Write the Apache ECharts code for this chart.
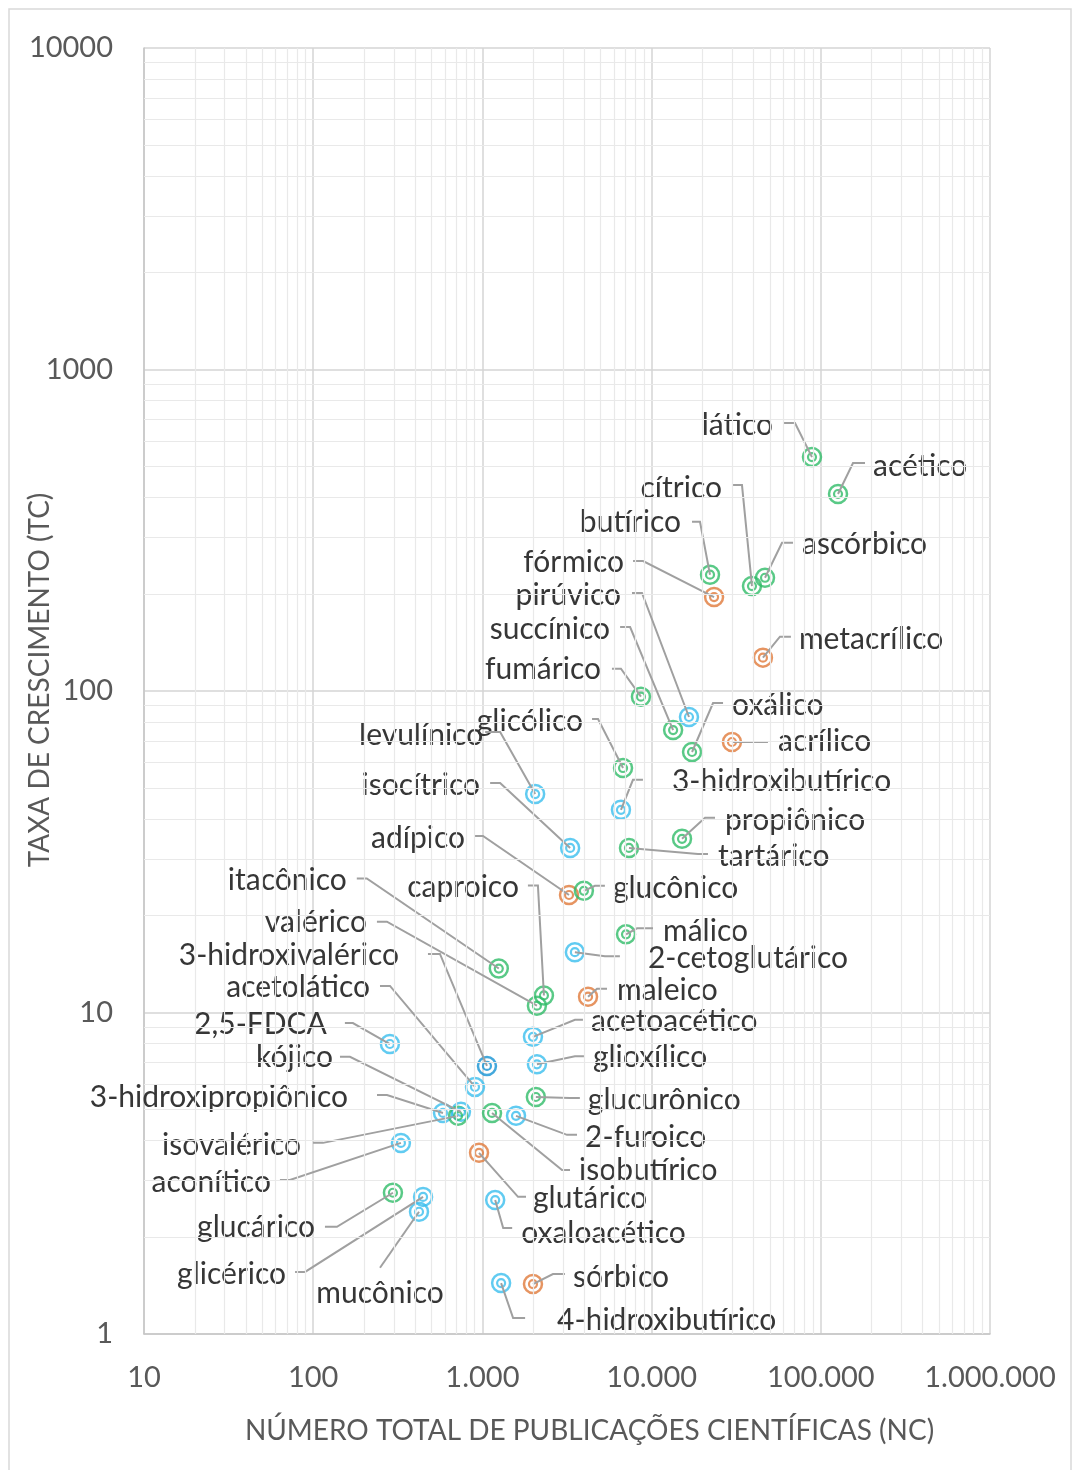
<!DOCTYPE html>
<html>
<head>
<meta charset="utf-8">
<script src="https://cdn.jsdelivr.net/npm/echarts@6/dist/echarts.min.js"></script>
<style>
  html, body { margin: 0; padding: 0; background: #ffffff; }
  #chart { width: 1073px; height: 1470px; }
</style>
</head>
<body>
<div id="chart"></div>
<script>
// Ácidos orgânicos: número total de publicações (NC) x taxa de crescimento (TC)
const acidos = [
  'lático', 'acético', 'cítrico', 'butírico', 'ascórbico', 'fórmico', 'pirúvico',
  'metacrílico', 'succínico', 'fumárico', 'oxálico', 'acrílico', 'glicólico',
  'levulínico', 'isocítrico', 'adípico', '3-hidroxibutírico', 'propiônico',
  'tartárico', 'glucônico', 'caproico', 'málico', '2-cetoglutárico', 'maleico',
  'itacônico', 'valérico', '3-hidroxivalérico', 'acetolático', '2,5-FDCA', 'kójico',
  '3-hidroxipropiônico', 'isovalérico', 'aconítico', 'glucárico', 'glicérico',
  'mucônico', 'acetoacético', 'glioxílico', 'glucurônico', '2-furoico',
  'isobutírico', 'glutárico', 'oxaloacético', 'sórbico', '4-hidroxibutírico'
];
const nc = [
  88700, 126400, 39200, 22140, 46800, 23400, 16630,
  45500, 13400, 8650, 17340, 29850, 6780,
  2050, 3300, 3250, 6590, 15130,
  7350, 3980, 2310, 7060, 3520, 4210,
  1250, 2100, 1064, 904, 284, 747,
  585, 718, 330, 296, 446,
  422, 1990, 2100, 2070, 1580,
  1140, 955, 1190, 1990, 1290
];
const tc = [
  534, 410, 212, 230, 225, 196, 83,
  127, 75.6, 96, 64.6, 69.4, 57.6,
  47.8, 32.5, 23.2, 42.7, 34.7,
  32.5, 23.9, 11.3, 17.5, 15.4, 11.2,
  13.7, 10.5, 6.82, 5.87, 7.98, 4.91,
  4.87, 4.77, 3.93, 2.75, 2.67,
  2.40, 8.4, 6.9, 5.46, 4.77,
  4.87, 3.66, 2.61, 1.43, 1.44
];
// v = verde, a = azul, e = azul escuro, l = laranja
const grupo = [
  'v', 'v', 'v', 'v', 'v', 'l', 'a',
  'l', 'v', 'v', 'v', 'l', 'v',
  'a', 'a', 'l', 'a', 'v',
  'v', 'v', 'v', 'v', 'a', 'l',
  'v', 'v', 'e', 'a', 'a', 'a',
  'a', 'v', 'a', 'v', 'a',
  'a', 'a', 'a', 'v', 'a',
  'v', 'l', 'a', 'l', 'a'
];
const xTicks = [10, 100, 1000, 10000, 100000, 1000000];
const yTicks = [1, 10, 100, 1000, 10000];

// Layout of each label relative to its marker (pixels):
// [cotoveloX, cotoveloY, fimTracoX, textoX, textoY]
const posRotulo = [
  [-17, -34, -29, -39, -32], [15, -31, 27, 35, -28], [-10, -101, -20, -30, -98],
  [-10, -53, -18, -29, -52], [17, -35, 28, 37, -33], [-71, -36, -81, -90, -35],
  [-47, -124, -57, -68, -122], [17, -21, 28, 36, -18], [-43, -103, -53, -63, -101],
  [-20, -28, -29, -40, -27], [21, -49, 31, 40, -47], [26, 0, 36, 46, -1],
  [-25, -49, -31, -40, -47], [-35, -62, -50, -52, -59], [-70, -65, -80, -90, -63],
  [-86, -59, -94, -104, -57], [12, -30, 22, 51, -28], [23, -21, 33, 43, -18],
  [69, 6, 79, 89, 8], [11, -5, 21, 29, -3], [-6, -110, -16, -25, -108],
  [11, -6, 27, 37, -3], [30, 4, 45, 73, 6], [9, -8, 19, 29, -6],
  [-132, -90, -142, -152, -88], [-150, -84, -160, -170, -83], [-47, -112, -59, -88, -111],
  [-85, -101, -95, -105, -100], [-37, -21, -45, -63, -20], [-111, -55, -121, -128, -54],
  [-56, -18, -66, -95, -16], [-135, 27, -145, -157, 29], [-111, 37, -121, -130, 39],
  [-56, 34, -68, -78, 35], [-118, 75, -128, -137, 77], [-39, 56, -39, -39, 82],
  [42, -17, 50, 58, -16], [38, -8, 48, 56, -7], [34, 1, 44, 52, 3],
  [51, 19, 61, 69, 21], [70, 57, 78, 87, 57], [39, 44, 47, 54, 45],
  [8, 28, 17, 26, 33], [20, -10, 32, 40, -7], [12, 35, 24, 56, 37]
];

const cores = { v: '#2FBC68', a: '#3ABEEE', e: '#1492D3', l: '#E07939' };
const ordemGrupo = { a: 0, e: 1, l: 2, v: 3 };

const fmtMilhar = v => String(Math.round(v)).replace(/\B(?=(\d{3})+(?!\d))/g, '.');

// Minor grid lines at 2..9 within each decade
const linhasMenores = [];
for (let d = 0; d < xTicks.length - 1; d++) {
  for (let k = 2; k <= 9; k++) linhasMenores.push({ xAxis: xTicks[d] * k });
}
for (let d = 0; d < yTicks.length - 1; d++) {
  for (let k = 2; k <= 9; k++) linhasMenores.push({ yAxis: yTicks[d] * k });
}

const indices = acidos.map((_, i) => i)
  .sort((p, q) => ordemGrupo[grupo[p]] - ordemGrupo[grupo[q]]);

const pontos = indices.map(i => ({
  value: [nc[i], tc[i]],
  itemStyle: { borderColor: cores[grupo[i]] }
}));

const fonte = 'Lato';
const chart = echarts.init(document.getElementById('chart'), null, { renderer: 'canvas' });

// One ring of the double-ring marker
const anel = (nome, tamanho, espessura, z) => ({
  name: nome, type: 'scatter', z: z,
  symbol: 'circle', symbolSize: tamanho,
  itemStyle: { color: 'rgba(255,255,255,0)', borderWidth: espessura },
  emphasis: { disabled: true },
  data: pontos
});

chart.setOption({
  animation: false,
  backgroundColor: '#ffffff',
  graphic: [{
    type: 'rect', silent: true, z: -10,
    shape: { x: 9, y: 9, width: 1062, height: 1462 },
    style: { fill: 'none', stroke: '#d9d9d9', lineWidth: 1.5 }
  }],
  grid: { left: 144, top: 48, right: 83, bottom: 136, containLabel: false, outerBoundsMode: 'none' },
  xAxis: {
    type: 'log', logBase: 10, min: xTicks[0], max: xTicks[xTicks.length - 1],
    axisLine: { show: true, onZero: false, lineStyle: { color: '#c6c6c6', width: 1.5 } },
    axisTick: { show: false },
    axisLabel: { color: '#595959', fontFamily: fonte, fontSize: 29, margin: 29, formatter: fmtMilhar },
    splitLine: { show: true, lineStyle: { color: '#d4d4d4', width: 1.5 } },
    name: 'NÚMERO TOTAL DE PUBLICAÇÕES CIENTÍFICAS (NC)',
    nameLocation: 'middle', nameGap: 83, nameMoveOverlap: false,
    nameTextStyle: { color: '#595959', fontFamily: fonte, fontSize: 28, padding: [0, 0, 0, 45] }
  },
  yAxis: {
    type: 'log', logBase: 10, min: yTicks[0], max: yTicks[yTicks.length - 1],
    axisLine: { show: true, onZero: false, lineStyle: { color: '#c6c6c6', width: 1.5 } },
    axisTick: { show: false },
    axisLabel: { color: '#595959', fontFamily: fonte, fontSize: 29, margin: 31, formatter: v => String(Math.round(v)) },
    splitLine: { show: true, lineStyle: { color: '#d4d4d4', width: 1.5 } },
    name: 'TAXA DE CRESCIMENTO (TC)',
    nameLocation: 'middle', nameGap: 90, nameMoveOverlap: false,
    nameTextStyle: { color: '#595959', fontFamily: fonte, fontSize: 28, padding: [0, 0, 0, 22] }
  },
  series: [
    {
      name: 'grade', type: 'line', data: [], silent: true, z: 1,
      markLine: {
        silent: true, symbol: 'none', animation: false,
        label: { show: false },
        lineStyle: { color: '#e9e9e9', width: 1.2, type: 'solid' },
        emphasis: { disabled: true },
        data: linhasMenores
      }
    },
    anel('anel externo', 18, 2.5, 3),
    anel('anel interno', 8, 2.2, 3),
    {
      name: 'rótulos', type: 'custom', z: 4, silent: true,
      encode: { x: 0, y: 1 },
      data: acidos.map((_, i) => [nc[i], tc[i], i]),
      renderItem: (params, api) => {
        const i = api.value(2);
        const p = api.coord([api.value(0), api.value(1)]);
        const L = posRotulo[i];
        const cot = [p[0] + L[0], p[1] + L[1]];
        const fim = [p[0] + L[2], p[1] + L[1]];
        const align = L[3] > L[2] ? 'left' : (L[3] < L[2] ? 'right' : 'center');
        return {
          type: 'group',
          children: [
            {
              type: 'polyline',
              shape: { points: [p, cot, fim] },
              style: { stroke: '#a0a0a0', lineWidth: 2, fill: 'none' }
            },
            {
              type: 'text',
              x: p[0] + L[3], y: p[1] + L[4],
              style: {
                text: acidos[i], fill: '#363636',
                font: '30px ' + fonte, align: align, verticalAlign: 'middle'
              }
            }
          ]
        };
      }
    }
  ]
});
</script>
</body>
</html>
